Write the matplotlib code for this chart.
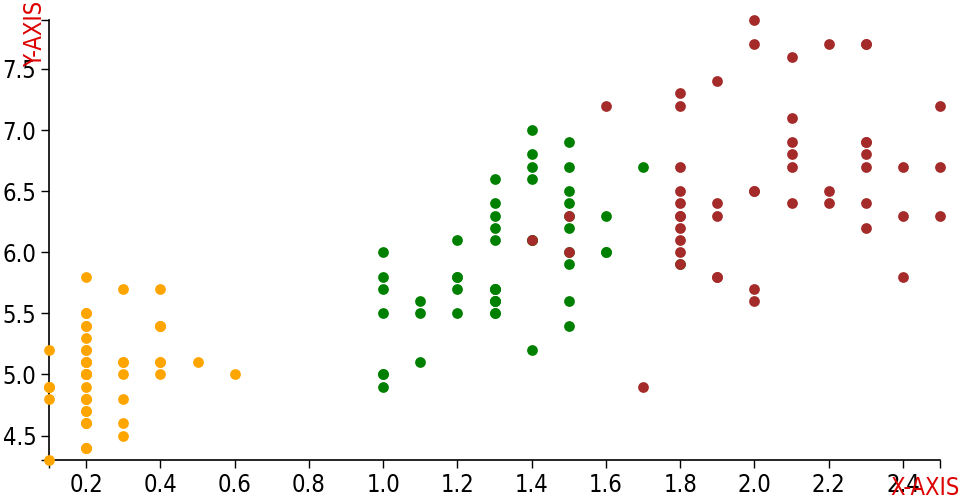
import numpy as np
import matplotlib
matplotlib.use('Agg')
import matplotlib.pyplot as plt

# iris: petal width (x) vs sepal length (y)
setosa_pw = [0.2, 0.2, 0.2, 0.2, 0.2, 0.4, 0.3, 0.2, 0.2, 0.1, 0.2, 0.2, 0.1, 0.1, 0.2, 0.4, 0.4,
             0.3, 0.3, 0.3, 0.2, 0.4, 0.2, 0.5, 0.2, 0.2, 0.4, 0.2, 0.2, 0.2, 0.2, 0.4, 0.1, 0.2,
             0.1, 0.2, 0.2, 0.1, 0.2, 0.2, 0.3, 0.3, 0.2, 0.6, 0.4, 0.3, 0.2, 0.2, 0.2, 0.2]
setosa_sl = [5.1, 4.9, 4.7, 4.6, 5.0, 5.4, 4.6, 5.0, 4.4, 4.9, 5.4, 4.8, 4.8, 4.3, 5.8, 5.7, 5.4,
             5.1, 5.7, 5.1, 5.4, 5.1, 4.6, 5.1, 4.8, 5.0, 5.0, 5.2, 5.2, 4.7, 4.8, 5.4, 5.2, 5.5,
             4.9, 5.0, 5.5, 4.9, 4.4, 5.1, 5.0, 4.5, 4.4, 5.0, 5.1, 4.8, 5.1, 4.6, 5.3, 5.0]
versicolor_pw = [1.4, 1.5, 1.5, 1.3, 1.5, 1.3, 1.6, 1.0, 1.3, 1.4, 1.0, 1.5, 1.0, 1.4, 1.3, 1.4,
                 1.5, 1.0, 1.5, 1.1, 1.8, 1.3, 1.5, 1.2, 1.3, 1.4, 1.4, 1.7, 1.5, 1.0, 1.1, 1.0,
                 1.2, 1.6, 1.5, 1.6, 1.5, 1.3, 1.3, 1.3, 1.2, 1.4, 1.2, 1.0, 1.3, 1.2, 1.3, 1.3,
                 1.1, 1.3]
versicolor_sl = [7.0, 6.4, 6.9, 5.5, 6.5, 5.7, 6.3, 4.9, 6.6, 5.2, 5.0, 5.9, 6.0, 6.1, 5.6, 6.7,
                 5.6, 5.8, 6.2, 5.6, 5.9, 6.1, 6.3, 6.1, 6.4, 6.6, 6.8, 6.7, 6.0, 5.7, 5.5, 5.5,
                 5.8, 6.0, 5.4, 6.0, 6.7, 6.3, 5.6, 5.5, 5.5, 6.1, 5.8, 5.0, 5.6, 5.7, 5.7, 6.2,
                 5.1, 5.7]
virginica_pw = [2.5, 1.9, 2.1, 1.8, 2.2, 2.1, 1.7, 1.8, 1.8, 2.5, 2.0, 1.9, 2.1, 2.0, 2.4, 2.3,
                1.8, 2.2, 2.3, 1.5, 2.3, 2.0, 2.0, 1.8, 2.1, 1.8, 1.8, 1.8, 2.1, 1.6, 1.9, 2.0,
                2.2, 1.5, 1.4, 2.3, 2.4, 1.8, 1.8, 2.1, 2.4, 2.3, 1.9, 2.3, 2.5, 2.3, 1.9, 2.0,
                2.3, 1.8]
virginica_sl = [6.3, 5.8, 7.1, 6.3, 6.5, 7.6, 4.9, 7.3, 6.7, 7.2, 6.5, 6.4, 6.8, 5.7, 5.8, 6.4,
                6.5, 7.7, 7.7, 6.0, 6.9, 5.6, 7.7, 6.3, 6.7, 7.2, 6.2, 6.1, 6.4, 7.2, 7.4, 7.9,
                6.4, 6.3, 6.1, 7.7, 6.3, 6.4, 6.0, 6.9, 6.7, 6.9, 5.8, 6.8, 6.7, 6.7, 6.3, 6.5,
                6.2, 5.9]

x_ticks = [0.2, 0.4, 0.6, 0.8, 1.0, 1.2, 1.4, 1.6, 1.8, 2.0, 2.2, 2.4]
y_ticks = [4.5, 5.0, 5.5, 6.0, 6.5, 7.0, 7.5]

plt.rcParams['font.family'] = ['DejaVu Sans']
plt.rcParams['font.stretch'] = 'condensed'

fig = plt.figure(figsize=(9.6, 5.0), dpi=100)
ax = fig.add_axes([49 / 960, 40 / 500, 891 / 960, 440 / 500])

all_pw = setosa_pw + versicolor_pw + virginica_pw
all_sl = setosa_sl + versicolor_sl + virginica_sl
ax.set_xlim(min(all_pw), max(all_pw))
ax.set_ylim(min(all_sl), max(all_sl))

for xs, ys, c in [(setosa_pw, setosa_sl, '#ffa500'),
                  (versicolor_pw, versicolor_sl, '#008000'),
                  (virginica_pw, virginica_sl, '#a52a2a')]:
    ax.scatter(xs, ys, s=60, color=c, linewidths=0, clip_on=False, zorder=3)

ax.set_xticks(x_ticks)
ax.set_xticklabels(['{:.1f}'.format(v) for v in x_ticks])
ax.set_yticks(y_ticks)
ax.set_yticklabels(['{:.1f}'.format(v) for v in y_ticks])
# outer ticks at the ends of the domain
ax.set_xticks(list(ax.get_xlim()), minor=True)
ax.set_yticks(list(ax.get_ylim()), minor=True)
ax.tick_params(which='both', length=6, width=1, color='black', labelsize=17, pad=3)

for side in ['top', 'right']:
    ax.spines[side].set_visible(False)
for side in ['left', 'bottom']:
    ax.spines[side].set_linewidth(1.2)

fig.text(35 / 960, 1.0, 'Y-AXIS', rotation=90, color='#dd0000', fontsize=17,
         ha='center', va='top')
fig.text(1.0, 0.0, 'X-AXIS', color='#dd0000', fontsize=17,
         ha='right', va='bottom')

fig.savefig('out.png', dpi=100)
